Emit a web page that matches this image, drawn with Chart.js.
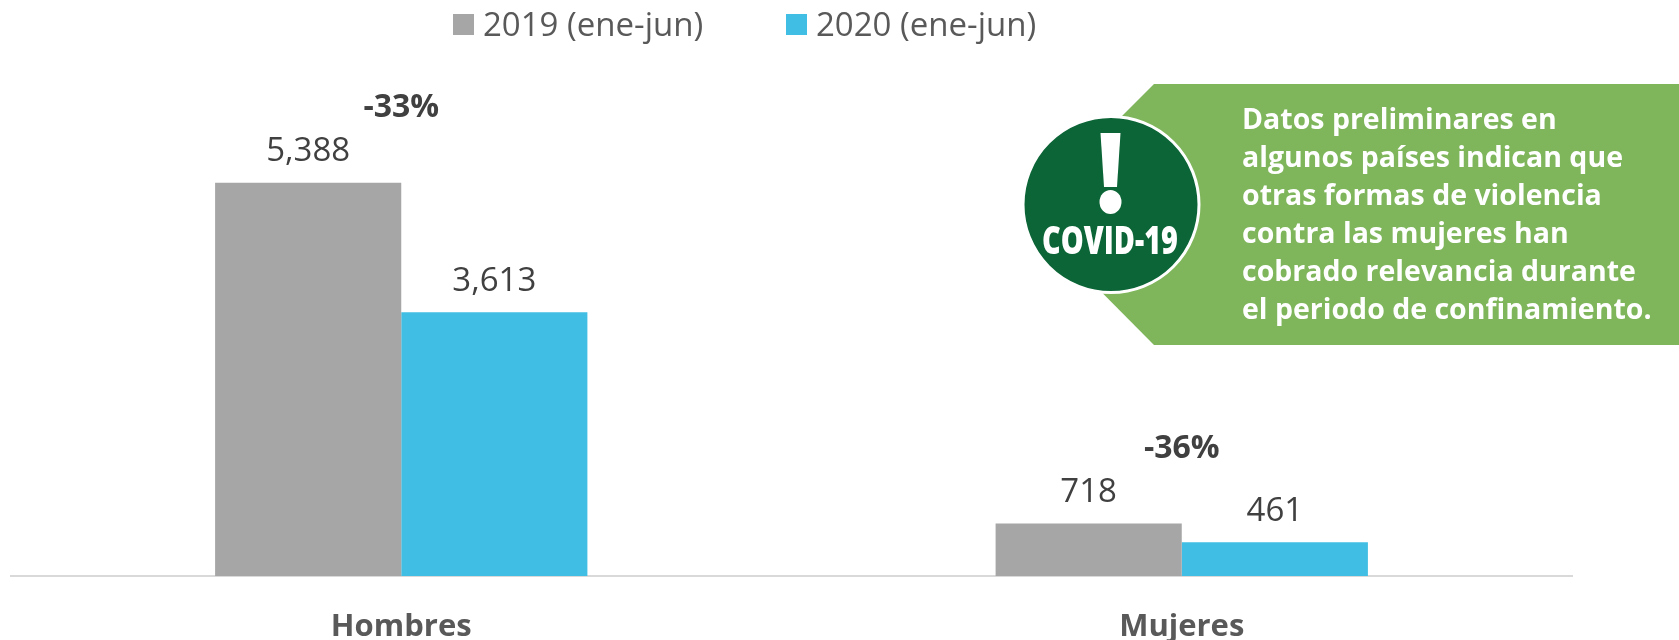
<!DOCTYPE html>
<html>
<head>
<meta charset="utf-8">
<title>Hombres y Mujeres</title>
<script src="https://cdn.jsdelivr.net/npm/chart.js@4/dist/chart.umd.js"></script>
<style>
    html, body { margin: 0; padding: 0; background: #fff; }
    canvas { display: block; }
</style>
</head>
<body>
<canvas id="chart" width="1679" height="640"></canvas>
<script>
const categories = ['Hombres', 'Mujeres'];
const seriesNames = ['2019 (ene-jun)', '2020 (ene-jun)'];
const values2019 = [5388, 718];
const values2020 = [3613, 461];
const changeLabels = ['-33%', '-36%'];
const calloutLines = [
    'Datos preliminares en',
    'algunos países indican que',
    'otras formas de violencia',
    'contra las mujeres han',
    'cobrado relevancia durante',
    'el periodo de confinamiento.'
];

const GRAY = '#A6A6A6';
const BLUE = '#41BEE3';
const FONT = '"Open Sans", sans-serif';

// Legend is drawn by hand, the built-in one can't get the box/text gap this tight
const topLegend = {
    id: 'topLegend',
    afterDraw(chart) {
        const ctx = chart.ctx;
        const items = [[453, GRAY], [786, BLUE]];
        ctx.save();
        ctx.font = '33px ' + FONT;
        ctx.textBaseline = 'middle';
        ctx.textAlign = 'left';
        items.forEach(([x, color], i) => {
            ctx.fillStyle = color;
            ctx.fillRect(x, 14, 21, 21);
            ctx.fillStyle = '#595959';
            ctx.fillText(seriesNames[i], x + 30, 27, 221);
        });
        ctx.restore();
    }
};

// Values over the bars and the % change over each group
const barLabels = {
    id: 'barLabels',
    afterDatasetsDraw(chart) {
        const ctx = chart.ctx;
        ctx.save();
        ctx.textAlign = 'center';
        ctx.textBaseline = 'middle';
        chart.data.datasets.forEach((ds, d) => {
            chart.getDatasetMeta(d).data.forEach((bar, i) => {
                ctx.font = '33px ' + FONT;
                ctx.fillStyle = '#404040';
                ctx.fillText(ds.data[i].toLocaleString('en-US'), bar.x, bar.y - 31);
            });
        });
        chart.getDatasetMeta(0).data.forEach((bar, i) => {
            const center = chart.scales.x.getPixelForValue(i);
            ctx.font = 'bold 32px ' + FONT;
            ctx.fillStyle = '#404040';
            ctx.fillText(changeLabels[i], center, bar.y - 75);
        });
        ctx.restore();
    }
};

// Green COVID-19 note on the right
const covidNote = {
    id: 'covidNote',
    afterDraw(chart) {
        const ctx = chart.ctx;
        ctx.save();

        ctx.fillStyle = '#7FB65B';
        ctx.beginPath();
        ctx.moveTo(1154, 84);
        ctx.lineTo(1679, 84);
        ctx.lineTo(1679, 345);
        ctx.lineTo(1154, 345);
        ctx.lineTo(1024, 214);
        ctx.closePath();
        ctx.fill();

        ctx.fillStyle = '#0B6536';
        ctx.strokeStyle = '#fff';
        ctx.lineWidth = 3;
        ctx.beginPath();
        ctx.ellipse(1111, 204.5, 88, 88, 0, 0, Math.PI * 2);
        ctx.fill();
        ctx.stroke();

        // exclamation mark
        ctx.fillStyle = '#fff';
        ctx.beginPath();
        ctx.moveTo(1100.5, 133);
        ctx.lineTo(1120.5, 133);
        ctx.lineTo(1117, 187);
        ctx.lineTo(1104, 187);
        ctx.closePath();
        ctx.fill();
        ctx.beginPath();
        ctx.ellipse(1110.5, 202, 11, 12, 0, 0, Math.PI * 2);
        ctx.fill();

        ctx.textBaseline = 'alphabetic';
        ctx.textAlign = 'center';
        ctx.font = '800 39px ' + FONT;
        ctx.fillText('COVID-19', 1110, 254, 136);

        ctx.textAlign = 'left';
        ctx.font = 'bold 28.5px ' + FONT;
        calloutLines.forEach((line, i) => {
            ctx.fillText(line, 1242, 129 + i * 38, 414);
        });
        ctx.restore();
    }
};

new Chart(document.getElementById('chart').getContext('2d'), {
    type: 'bar',
    data: {
        labels: categories,
        datasets: [
            { label: seriesNames[0], data: values2019, backgroundColor: GRAY },
            { label: seriesNames[1], data: values2020, backgroundColor: BLUE }
        ]
    },
    options: {
        responsive: false,
        animation: false,
        layout: { padding: { left: 11, right: 107, top: 65 } },
        datasets: { bar: { categoryPercentage: 0.477, barPercentage: 1, borderWidth: 0 } },
        plugins: {
            legend: { display: false },
            tooltip: { enabled: false }
        },
        scales: {
            x: {
                grid: { display: false, drawTicks: false },
                border: { color: '#D9D9D9', width: 2 },
                ticks: {
                    color: '#595959',
                    padding: 33,
                    font: { family: FONT, size: 31, weight: 'bold' }
                },
                afterFit(scale) { scale.height = 64; }
            },
            y: {
                display: false,
                min: 0,
                max: 7000
            }
        }
    },
    plugins: [barLabels, covidNote, topLegend]
});
</script>
</body>
</html>
